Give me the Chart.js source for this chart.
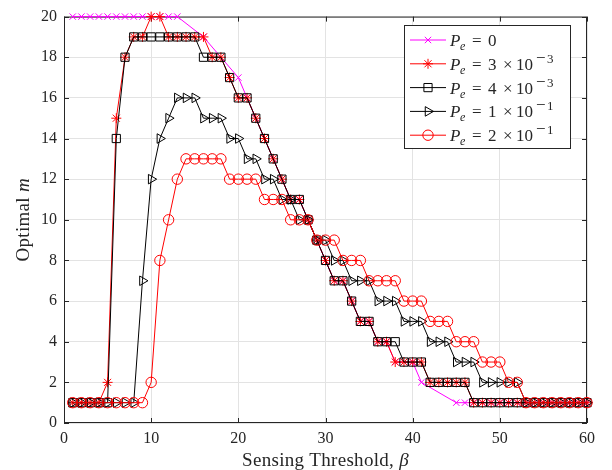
<!DOCTYPE html>
<html>
<head>
<meta charset="utf-8">
<script src="https://cdn.jsdelivr.net/npm/chart.js@4"></script>
<style>
html, body { margin: 0; padding: 0; background: #fff; }
#wrap { width: 612px; height: 470px; }
</style>
</head>
<body>
<div id="wrap"><canvas id="chart"></canvas></div>
<script>
// sensing threshold beta (x axis)
const beta = [1,2,3,4,5,6,7,8,9,10,11,12,13,14,15,16,17,18,19,20,
              21,22,23,24,25,26,27,28,29,30,31,32,33,34,35,36,37,38,39,40,
              41,42,43,44,45,46,47,48,49,50,51,52,53,54,55,56,57,58,59,60];

// Pe = 0 is only sampled at some beta values
const betaPe0 = [1,2,3,4,5,6,7,8,9,10,11,12,13,16,20,21,22,23,24,25,26,27,28,29,30,
                 31,32,33,34,35,36,37,38,39,40,41,45,46,47,48,49,50,51,52,53,54,55,56,57,58,59,60];
const mPe0 = [20,20,20,20,20,20,20,20,20,20,20,20,20,19,17,16,15,14,13,12,11,11,10,9,8,
              7,7,6,5,5,4,4,3,3,3,2,1,1,1,1,1,1,1,1,1,1,1,1,1,1,1,1];

const mPe3e3 = [1,1,1,1,2,15,18,19,19,20, 20,19,19,19,19,19,18,18,17,16,
                16,15,14,13,12,11,11,10,9,8, 7,7,6,5,5,4,4,3,3,3,
                3,2,2,2,2,2,1,1,1,1, 1,1,1,1,1,1,1,1,1,1];
const mPe4e3 = [1,1,1,1,1,14,18,19,19,19, 19,19,19,19,19,18,18,18,17,16,
                16,15,14,13,12,11,11,10,9,8, 7,7,6,5,5,4,4,4,3,3,
                3,2,2,2,2,2,1,1,1,1, 1,1,1,1,1,1,1,1,1,1];
const mPe1e1 = [1,1,1,1,1,1,1,1,7,12, 14,15,16,16,16,15,15,15,14,14,
                13,13,12,12,11,11,10,10,9,9, 8,8,7,7,7,6,6,6,5,5,
                5,4,4,4,3,3,3,2,2,2, 2,2,1,1,1,1,1,1,1,1];
const mPe2e1 = [1,1,1,1,1,1,1,1,1,2, 8,10,12,13,13,13,13,13,12,12,
                12,12,11,11,11,10,10,10,9,9, 9,8,8,8,7,7,7,7,6,6,
                6,5,5,5,4,4,4,3,3,3, 2,2,1,1,1,1,1,1,1,1];

// legend text: coefficient and exponent of 10
const legendCoef = ['0', '3', '4', '1', '2'];
const legendExp = ['', '3', '3', '1', '1'];

const xTicks = [0, 10, 20, 30, 40, 50, 60];
const yTicks = [0, 2, 4, 6, 8, 10, 12, 14, 16, 18, 20];

const SERIF = '"Liberation Serif", "DejaVu Serif", serif';
const TXT = '#262626';

function pts(xs, ys) {
    return xs.map((x, i) => ({ x: x, y: ys[i] }));
}

function series(label, xs, ys, color, style, radius, order, rot) {
    return {
        label: label,
        data: pts(xs, ys),
        borderColor: color,
        backgroundColor: 'rgba(0,0,0,0)',
        borderWidth: 1,
        pointStyle: style,
        pointRadius: radius,
        pointHoverRadius: radius,
        pointBorderWidth: 1,
        pointBorderColor: color,
        pointBackgroundColor: 'rgba(0,0,0,0)',
        pointRotation: rot || 0,
        tension: 0,
        clip: false,
        order: order
    };
}

// frame, inward ticks, axis titles and the boxed legend
const decor = {
    id: 'decor',
    beforeDatasetsDraw(chart) {
        const ctx = chart.ctx, a = chart.chartArea;
        const xs = chart.scales.x, ys = chart.scales.y;
        ctx.save();
        ctx.strokeStyle = TXT;
        ctx.lineWidth = 1;
        ctx.strokeRect(a.left + 0.5, a.top + 0.5, a.right - a.left - 1, a.bottom - a.top - 1);
        ctx.beginPath();
        xTicks.forEach(v => {
            const p = Math.round(xs.getPixelForValue(v)) + 0.5;
            ctx.moveTo(p, a.bottom); ctx.lineTo(p, a.bottom - 5);
            ctx.moveTo(p, a.top); ctx.lineTo(p, a.top + 5);
        });
        yTicks.forEach(v => {
            const p = Math.round(ys.getPixelForValue(v)) + 0.5;
            ctx.moveTo(a.left, p); ctx.lineTo(a.left + 5, p);
            ctx.moveTo(a.right, p); ctx.lineTo(a.right - 5, p);
        });
        ctx.stroke();

        // axis titles
        ctx.fillStyle = TXT;
        ctx.textBaseline = 'alphabetic';
        ctx.letterSpacing = '0.3px';
        const cx = (a.left + a.right) / 2;
        ctx.font = '19px ' + SERIF;
        const t1 = 'Sensing Threshold, ';
        const w1 = ctx.measureText(t1).width;
        ctx.font = 'italic 19px ' + SERIF;
        const w2 = ctx.measureText('\u03b2').width;
        const sx = cx - (w1 + w2) / 2;
        ctx.font = '19px ' + SERIF;
        ctx.fillText(t1, sx, 466);
        ctx.font = 'italic 19px ' + SERIF;
        ctx.fillText('\u03b2', sx + w1, 466);

        ctx.translate(29, (a.top + a.bottom) / 2);
        ctx.rotate(-Math.PI / 2);
        ctx.font = '19px ' + SERIF;
        const y1 = 'Optimal ';
        const yw1 = ctx.measureText(y1).width;
        ctx.font = 'italic 19px ' + SERIF;
        const yw2 = ctx.measureText('m').width;
        ctx.font = '19px ' + SERIF;
        ctx.fillText(y1, -(yw1 + yw2) / 2, 0);
        ctx.font = 'italic 19px ' + SERIF;
        ctx.fillText('m', -(yw1 + yw2) / 2 + yw1, 0);
        ctx.restore();
    },
    afterDatasetsDraw(chart) {
        const ctx = chart.ctx;
        const bx = 404, by = 25, bw = 166, bh = 123;
        ctx.save();
        ctx.fillStyle = '#fff';
        ctx.fillRect(bx, by, bw, bh);
        ctx.strokeStyle = TXT;
        ctx.lineWidth = 1;
        ctx.strokeRect(bx + 0.5, by + 0.5, bw, bh);
        chart.data.datasets.forEach((ds, i) => {
            const yy = by + 15 + i * 23.8;
            ctx.strokeStyle = ds.borderColor;
            ctx.lineWidth = 1;
            ctx.beginPath();
            ctx.moveTo(bx + 6, yy); ctx.lineTo(bx + 42, yy);
            ctx.stroke();
            ctx.fillStyle = 'rgba(0,0,0,0)';
            Chart.helpers.drawPoint(ctx, {
                pointStyle: ds.pointStyle, rotation: ds.pointRotation,
                radius: ds.pointRadius, borderWidth: 1
            }, bx + 24, yy);
            // text, placed piece by piece like the TeX layout
            ctx.fillStyle = TXT;
            ctx.textBaseline = 'alphabetic';
            const base = yy + 6;
            ctx.font = 'italic 17px ' + SERIF;
            ctx.fillText('P', bx + 46, base);
            ctx.font = 'italic 12px ' + SERIF;
            ctx.fillText('e', bx + 56, base + 4);
            ctx.font = '17px ' + SERIF;
            ctx.fillText('=', bx + 68, base);
            ctx.fillText(legendCoef[i], bx + 84, base);
            if (legendExp[i]) {
                ctx.fillText('\u00d7', bx + 99, base);
                ctx.fillText('10', bx + 112, base);
                ctx.font = '17px ' + SERIF;
                ctx.fillText('\u2212', bx + 132, base - 7);
                ctx.font = '13px ' + SERIF;
                ctx.fillText(legendExp[i], bx + 143, base - 7);
            }
        });
        ctx.restore();
    }
};

new Chart(document.getElementById('chart'), {
    type: 'line',
    data: {
        datasets: [
            series('Pe = 0', betaPe0, mPe0, '#ff00ff', 'crossRot', 4.5, 5),
            series('Pe = 3e-3', beta, mPe3e3, '#ff0000', 'star', 5, 4),
            series('Pe = 4e-3', beta, mPe4e3, '#000000', 'rect', 5.8, 3),
            series('Pe = 1e-1', beta, mPe1e1, '#000000', 'triangle', 5.5, 2, 90),
            series('Pe = 2e-1', beta, mPe2e1, '#ff0000', 'circle', 5.2, 1)
        ]
    },
    options: {
        responsive: true,
        maintainAspectRatio: false,
        animation: false,
        layout: { padding: { left: 0, top: 10, right: 25, bottom: 0 } },
        plugins: { legend: { display: false }, tooltip: { enabled: false } },
        scales: {
            x: {
                type: 'linear', min: 0, max: 60,
                afterFit: s => { s.height = 47; },
                afterBuildTicks: s => { s.ticks = xTicks.map(v => ({ value: v })); },
                grid: { color: '#e3e3e3', lineWidth: 1, drawTicks: false },
                border: { display: false },
                ticks: { color: TXT, font: { family: SERIF, size: 16 }, padding: 6, maxRotation: 0 }
            },
            y: {
                type: 'linear', min: 0, max: 20,
                afterFit: s => { s.width = 64; },
                afterBuildTicks: s => { s.ticks = yTicks.map(v => ({ value: v })); },
                grid: { color: '#e3e3e3', lineWidth: 1, drawTicks: false },
                border: { display: false },
                ticks: { color: TXT, font: { family: SERIF, size: 16 }, padding: 7 }
            }
        }
    },
    plugins: [decor]
});
</script>
</body>
</html>
